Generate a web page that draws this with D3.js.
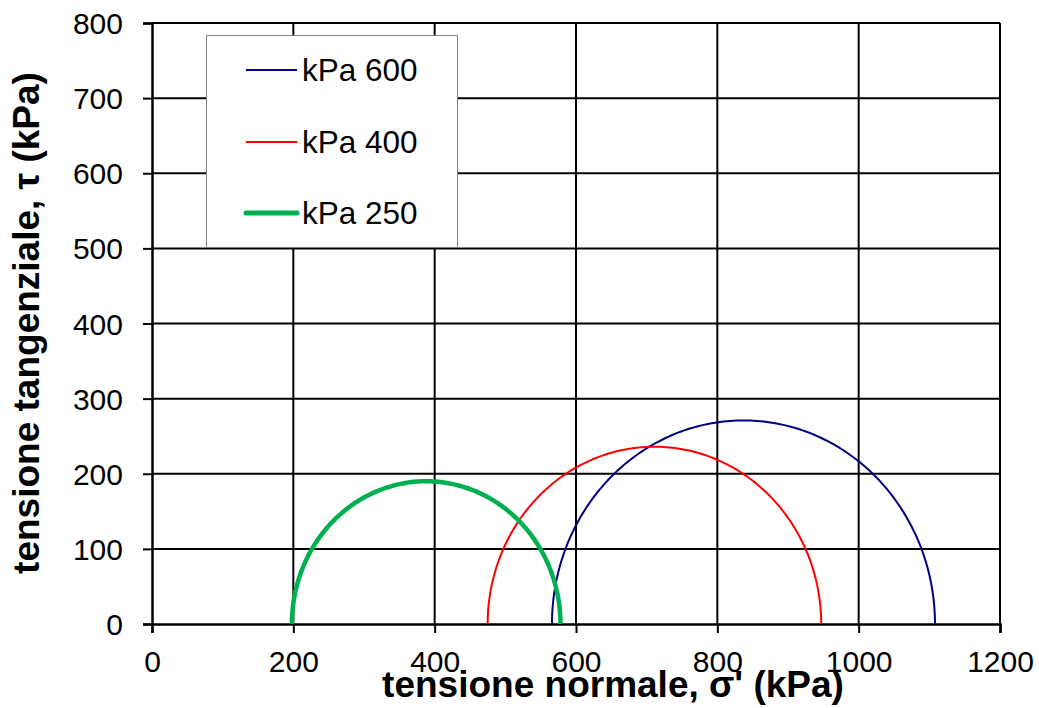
<!DOCTYPE html>
<html><head><meta charset="utf-8">
<script src="https://cdn.jsdelivr.net/npm/d3@7"></script>
<style>body{margin:0;background:#fff}svg{display:block}text{font-family:Arial,"Liberation Sans",sans-serif}</style>
</head><body><svg id="c" width="1039" height="708"></svg>
<script>
// Mohr circles: minor and major principal effective stresses (kPa)
const seriesNames = ["kPa 600", "kPa 400", "kPa 250"];
const sigma3 = [566, 475, 198];
const sigma1 = [1108, 947, 578];
const colors = ["#000080", "#ff0000", "#00b050"];
const widths = [2, 2, 4.5];
const xTicks = [0, 200, 400, 600, 800, 1000, 1200];
const yTicks = [0, 100, 200, 300, 400, 500, 600, 700, 800];

const svg = d3.select("#c");
const x = d3.scaleLinear().domain([0, 1200]).range([152, 1000]);
const y = d3.scaleLinear().domain([0, 800]).range([624, 23]);

// grid
svg.append("g").selectAll("line").data(xTicks.slice(1)).join("line")
  .attr("x1", d => x(d)).attr("x2", d => x(d)).attr("y1", y(0)).attr("y2", y(800))
  .attr("stroke", "#000").attr("stroke-width", 2);
svg.append("g").selectAll("line").data(yTicks.slice(1)).join("line")
  .attr("x1", x(0)).attr("x2", x(1200)).attr("y1", d => y(d)).attr("y2", d => y(d))
  .attr("stroke", "#000").attr("stroke-width", 2);

// axes
const xAxis = d3.axisBottom(x).tickValues(xTicks).tickSize(9).tickPadding(18).tickFormat(d3.format("d"));
const gx = svg.append("g").attr("transform", `translate(0,${y(0)})`).call(xAxis);
const yAxis = d3.axisLeft(y).tickValues(yTicks).tickSize(9).tickPadding(20).tickFormat(d3.format("d"));
const gy = svg.append("g").attr("transform", `translate(${x(0)},0)`).call(yAxis);
[gx, gy].forEach(g => {
  g.select(".domain").attr("stroke", "#000").attr("stroke-width", 2.5);
  g.selectAll(".tick line").attr("stroke", "#000").attr("stroke-width", 2);
  g.selectAll(".tick text").attr("fill", "#000").style("font-size", "30px").style("font-family", "Arial, 'Liberation Sans', sans-serif");
});
gy.selectAll(".tick text").attr("dy", "0.35em");
gx.selectAll(".tick text").attr("dy", "0.71em");

// circles
const line = d3.line().x(d => x(d[0])).y(d => y(d[1]));
[0, 1, 2].forEach(i => {
  const c = (sigma1[i] + sigma3[i]) / 2, r = (sigma1[i] - sigma3[i]) / 2;
  const pts = d3.range(0, 181).map(a => {
    const t = Math.PI - a * Math.PI / 180;
    return [c + r * Math.cos(t), r * Math.sin(t)];
  });
  svg.append("path").datum(pts).attr("d", line).attr("fill", "none")
    .attr("stroke", colors[i]).attr("stroke-width", widths[i]);
});

// legend
const lg = svg.append("g");
lg.append("rect").attr("x", 206.5).attr("y", 35.5).attr("width", 251).attr("height", 212)
  .attr("fill", "#fff").attr("stroke", "#808080").attr("stroke-width", 1);
const rowsY = [70, 142, 213];
seriesNames.forEach((n, i) => {
  lg.append("line").attr("x1", 246).attr("x2", 297).attr("y1", rowsY[i]).attr("y2", rowsY[i])
    .attr("stroke", colors[i]).attr("stroke-width", i === 2 ? 5 : 2).attr("stroke-linecap", i === 2 ? "round" : "butt");
  lg.append("text").attr("x", 302).attr("y", rowsY[i]).attr("dy", "0.35em")
    .style("font-size", "31.5px").text(n);
});

// titles
svg.append("text").attr("x", 613).attr("y", 697).attr("text-anchor", "middle")
  .style("font-size", "37px").style("font-weight", "bold").text("tensione normale, σ' (kPa)");
svg.append("text").attr("transform", "translate(39,323) rotate(-90)").attr("text-anchor", "middle")
  .style("font-size", "37px").style("font-weight", "bold").text("tensione tangenziale, τ (kPa)");
</script></body></html>
